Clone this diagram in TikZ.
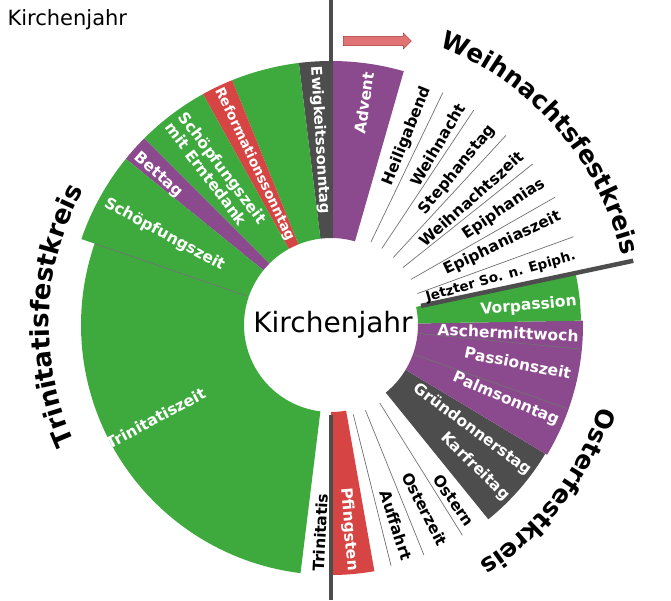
\documentclass[tikz,border=0pt]{standalone}
\usepackage{fontspec}
\setmainfont{DejaVu Sans}
\usetikzlibrary{decorations.text,shapes.arrows}
\definecolor{kgreen}{RGB}{62,170,62}
\definecolor{kpurple}{RGB}{140,74,142}
\definecolor{kred}{RGB}{214,68,68}
\definecolor{kgray}{RGB}{77,77,77}
\newcommand\kjsector[4]{\fill[#1] (#2:87) arc[start angle=#2,end angle=#3,radius=87] -- (#3:#4) arc[start angle=#3,end angle=#2,radius=#4] -- cycle;}
\tikzset{
 lab/.style={inner sep=0pt,font=\fontsize{15.5}{17}\selectfont\bfseries},
 wl/.style={lab,text=white},
 bl/.style={lab,text=black},
 sep/.style={draw=kgray!80,line width=0.7pt},
 thick sep/.style={draw=kgray,line width=4.5pt},
}
\begin{document}
\begin{tikzpicture}[x=1pt,y=1pt]
\useasboundingbox (-331,-275) rectangle (340,325);
% sectors
\kjsector{kpurple}{74}{90}{264}
\kjsector{kgray}{90}{97}{264}
\kjsector{kgreen}{97}{112}{264}
\kjsector{kred}{112}{119}{264}
\kjsector{kgreen}{119}{135}{264}
\kjsector{kpurple}{135}{141}{264}
\kjsector{kgreen}{141}{161}{264}
\kjsector{kgreen}{161}{263}{250}
\kjsector{kred}{270}{280}{250}
\kjsector{kgray}{309}{329}{250}
\kjsector{kpurple}{329}{361}{252}
\kjsector{kgreen}{361}{372}{250}
% thin separators
\foreach \a in {20,29.7,38.6,47.3,56.4,64.3}{\draw[sep] (\a:92) -- (\a:258);}
\foreach \a in {284,292,302}{\draw[sep] (\a:92) -- (\a:248);}
\foreach \a in {161,340.5,354.5}{\draw[sep] (\a:88) -- (\a:250);}
% thick dividers
\coordinate (topin) at (90:87);
\coordinate (topout) at (0,325);
\coordinate (botin) at (270:90);
\coordinate (botout) at (0,-275);
\coordinate (dgin) at (12:92);
\coordinate (dgout) at (12:309);
\draw[thick sep] (topin) -- (topout);
\draw[thick sep] (botin) -- (botout);
\draw[thick sep] (dgin) -- (dgout);
% arrow
\node[single arrow,draw=kred!80!black,fill=kred!75,minimum height=68pt,minimum width=16pt,single arrow head extend=3pt,inner sep=4pt] (arr) at (44,284) {};
% titles
\node[anchor=west,font=\fontsize{21}{24}\selectfont] (title) at (-327,305) {Kirchenjahr};
\node[font=\fontsize{28}{30}\selectfont] (center) at (2,0) {Kirchenjahr};
% circle names
\path[decorate,decoration={text along path,text align=center,text={|\fontsize{25}{28}\selectfont\bfseries|Weihnachtsfestkreis}}] (70:299) arc[start angle=70,end angle=12,radius=299];
\path[decorate,decoration={text along path,text align=center,text={|\fontsize{26}{28}\selectfont\bfseries|Trinitatisfestkreis}}] (209:282) arc[start angle=209,end angle=147,radius=282];
\path[decorate,decoration={text along path,text align=center,text={|\fontsize{25}{28}\selectfont\bfseries|Osterfestkreis}}] (346:280) arc[start angle=346,end angle=299,radius=280];
% right side labels
\node[wl,rotate=81.5,anchor=east] (advent) at (81.5:256) {Advent};
\node[bl,rotate=68,anchor=east] (heiligabend) at (68:256) {Heiligabend};
\node[bl,rotate=59.4,anchor=east] (weihnacht) at (59.4:256) {Weihnacht};
\node[bl,rotate=50.8,anchor=east] (stephanstag) at (50.8:256) {Stephanstag};
\node[bl,rotate=41.9,anchor=east] (weihnachtszeit) at (41.9:256) {Weihnachtszeit};
\node[bl,rotate=33.9,anchor=east] (epiphanias) at (33.9:256) {Epiphanias};
\node[bl,rotate=25.5,anchor=east] (epiphaniaszeit) at (25.5:254) {Epiphaniaszeit};
\node[bl,rotate=15.8,anchor=east,font=\fontsize{13.5}{15}\selectfont\bfseries] (jetzter) at (15.8:254) {Jetzter So. n. Epiph.};
\node[wl,rotate=5.5,anchor=east] (vorpassion) at (5.5:247) {Vorpassion};
\node[wl,rotate=-2.5,anchor=east] (ascher) at (-2.5:248) {Aschermittwoch};
\node[wl,rotate=-11.5,anchor=east] (passion) at (-11.5:245) {Passionszeit};
\node[wl,rotate=-23,anchor=east] (palm) at (-23:247) {Palmsonntag};
\node[wl,rotate=-36.5,anchor=east] (gruen) at (-36.5:247) {Gründonnerstag};
\node[wl,rotate=-44.5,anchor=east] (kar) at (-44.5:247) {Karfreitag};
\node[bl,rotate=-55,anchor=east] (ostern) at (-55:244) {Ostern};
\node[bl,rotate=-63,anchor=east] (osterzeit) at (-63:247) {Osterzeit};
\node[bl,rotate=-72,anchor=east] (auffahrt) at (-72:247) {Auffahrt};
\node[wl,rotate=-85,anchor=east] (pfingsten) at (-85:247) {Pfingsten};
% left side labels
\node[bl,rotate=87,anchor=west] (trinitatis) at (267:247) {Trinitatis};
\node[wl,rotate=28,anchor=west] (trinzeit) at (208:254) {Trinitatiszeit};
\node[wl,rotate=-28.5,anchor=west] (schoepf) at (151.5:257) {Schöpfungszeit};
\node[wl,rotate=-41,anchor=west] (bettag) at (139:258) {Bettag};
\node[wl,rotate=-53,anchor=west,align=left] (ernte) at (127:258) {Schöpfungszeit\\mit Erntedank};
\node[wl,rotate=-64.5,anchor=west,font=\fontsize{13.8}{15}\selectfont\bfseries] (reform) at (115.5:262) {Reformationssonntag};
\node[wl,rotate=-86.5,anchor=west,font=\fontsize{14.8}{16}\selectfont\bfseries] (ewig) at (93.5:259) {Ewigkeitssonntag};
\end{tikzpicture}
\end{document}
